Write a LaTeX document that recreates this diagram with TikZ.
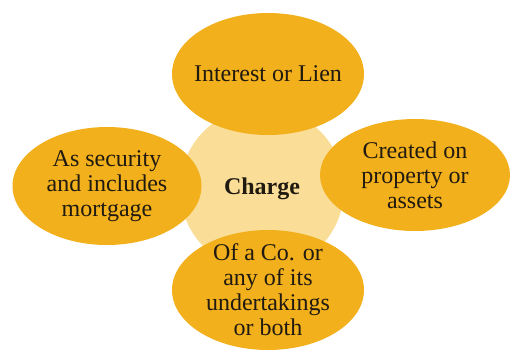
\documentclass[tikz,border=0pt]{standalone}
\usepackage{fontspec}
\setmainfont{Liberation Serif}
\usetikzlibrary{shapes.geometric}
\definecolor{chgold}{RGB}{242,176,28}
\definecolor{chpale}{RGB}{250,222,152}
\definecolor{chtext}{RGB}{32,26,16}
\tikzset{
  hub/.style={circle, fill=chpale, minimum size=164pt, inner sep=0pt,
              font=\fontsize{24}{25}\selectfont\bfseries, text=chtext},
  % negative inner sep so the minimum sizes fix each ellipse
  petal/.style={ellipse, fill=chgold, inner sep=-16pt, align=center,
                font=\fontsize{24}{25}\selectfont, text=chtext},
}
\begin{document}
\begin{tikzpicture}[x=1pt, y=-1pt]
  \useasboundingbox (0,0) rectangle (525,360);
  % pale disc behind the four petals
  \node[hub] (charge) at (262,189) {Charge};
  \node[petal, minimum width=192pt, minimum height=122pt] (lien) at (268,74) {Interest or Lien};
  \node[petal, minimum width=189pt, minimum height=118pt] (security) at (107,186)
       {As security\\and includes\\mortgage};
  \node[petal, minimum width=190pt, minimum height=112pt] (property) at (415,175)
       {Created on\\property or\\assets};
  \node[petal, minimum width=192pt, minimum height=120pt] (company) at (268,290)
       {Of a Co. or\\any of its\\undertakings\\or both};
\end{tikzpicture}
\end{document}
